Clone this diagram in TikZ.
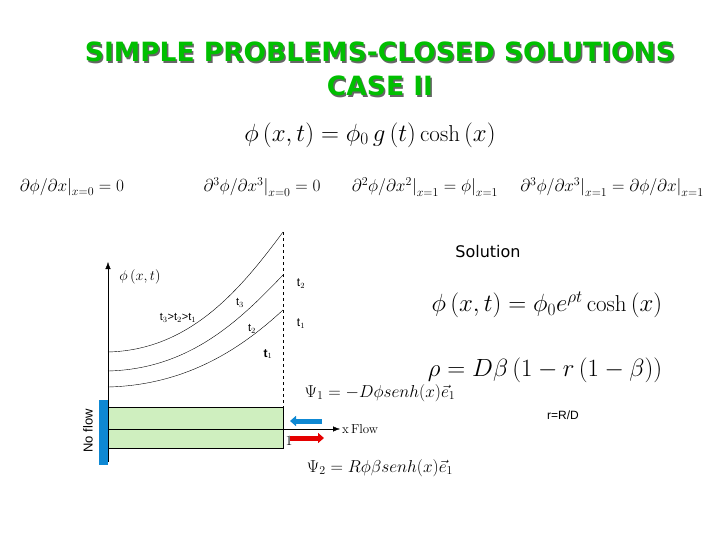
\documentclass[tikz,border=0pt]{standalone}
\usepackage{fontspec}
\setsansfont{Liberation Sans}
\newfontfamily\comic{DejaVu Sans}
\usetikzlibrary{arrows.meta}
\begin{document}
\begin{tikzpicture}[x=1pt,y=-1pt,
  lbl/.style={inner sep=0pt,font=\sffamily\fontsize{11}{12}\selectfont},
  math/.style={inner sep=0pt,font=\fontsize{23}{25}\selectfont},
  bc/.style={inner sep=0pt,font=\fontsize{17}{18}\selectfont},
  ttl/.style={inner sep=0pt,font=\comic\bfseries\fontsize{26.5}{28}\selectfont}]
\useasboundingbox (0,0) rectangle (720,540);
% title shadow
\node[ttl,text=black!60] at (381.5,53.5) {SIMPLE PROBLEMS-CLOSED SOLUTIONS};
\node[ttl,text=black!60] at (381.5,87.5) {CASE II};
\node[ttl,text=green!75!black] (t1) at (380,52) {SIMPLE PROBLEMS-CLOSED SOLUTIONS};
\node[ttl,text=green!75!black] (t2) at (380,86) {CASE II};
\node[math] (eq) at (370,135) {$\phi\left(x,t\right)=\phi_0\,g\left(t\right)\cosh\left(x\right)$};
\node[bc] (b1) at (72,187) {$\partial\phi/\partial x\big|_{x=0}=0$};
\node[bc] (b2) at (262,187) {$\partial^3\phi/\partial x^3\big|_{x=0}=0$};
\node[bc] (b3) at (425,187) {$\partial^2\phi/\partial x^2\big|_{x=1}=\phi\big|_{x=1}$};
\node[bc] (b4) at (612,187) {$\partial^3\phi/\partial x^3\big|_{x=1}=\partial\phi/\partial x\big|_{x=1}$};
% plot
\fill[green!50!olive!25] (108,407) rectangle (283,448);
\draw (108,407) rectangle (283,448);
\fill[cyan!70!blue] (99,400) rectangle (108,465);
\node[lbl,rotate=90,font=\sffamily\fontsize{13}{14}\selectfont] (nf) at (88,431) {No flow};
\coordinate (o) at (108,462);
\coordinate (top) at (108,262);
\draw[-{Latex[length=7pt]}] (o) -- (top);
\coordinate (xa) at (108,429);
\coordinate (xb) at (340,429);
\draw[-{Latex[length=7pt]}] (xa) -- (xb);
\node[anchor=west,inner sep=1pt,font=\fontsize{13}{14}\selectfont] (xf) at (341,429) {x\,Flow};
\draw[dashed] (283,232) -- (283,407);
\draw (108,352) .. controls (190,350) and (240,290) .. (283,232);
\draw (108,371) .. controls (190,369) and (240,320) .. (283,275);
\draw (108,387) .. controls (190,385) and (245,345) .. (283,310);
\node[math,font=\fontsize{15}{16}\selectfont] (phl) at (140,277) {$\phi\left(x,t\right)$};
\node[lbl] at (178,318) {t$_3$>t$_2$>t$_1$};
\node[lbl] at (240,303) {t$_3$};
\node[lbl] at (252,329) {t$_2$};
\node[lbl,font=\sffamily\bfseries\fontsize{12}{13}\selectfont] at (268,354) {t$_1$};
\node[lbl,font=\sffamily\fontsize{12}{13}\selectfont] at (301,284) {t$_2$};
\node[lbl,font=\sffamily\fontsize{12}{13}\selectfont] at (301,324) {t$_1$};
\draw[line width=5pt,cyan!70!blue,-{Triangle[length=6pt,width=10pt]}] (322,421) -- (290,421);
\draw[line width=5pt,red!90!black,-{Triangle[length=6pt,width=10pt]}] (290,438) -- (324,438);
\node[inner sep=0pt,font=\fontsize{14}{15}\selectfont] at (289,441) {1};
% right
\node[lbl,font=\comic\fontsize{16}{18}\selectfont] (sol) at (488,252) {Solution};
\node[math] (ph) at (547,305) {$\phi\left(x,t\right)=\phi_0e^{\rho t}\cosh\left(x\right)$};
\node[math] (rho) at (545,370) {$\rho=D\beta\left(1-r\left(1-\beta\right)\right)$};
\node[bc] (p1) at (380,393) {$\Psi_1=-D\phi senh(x)\vec e_1$};
\node[bc] (p2) at (380,468) {$\Psi_2=R\phi\beta senh(x)\vec e_1$};
\node[lbl,font=\sffamily\fontsize{12}{13}\selectfont] (r) at (563,415) {r=R/D};
\end{tikzpicture}
\end{document}
